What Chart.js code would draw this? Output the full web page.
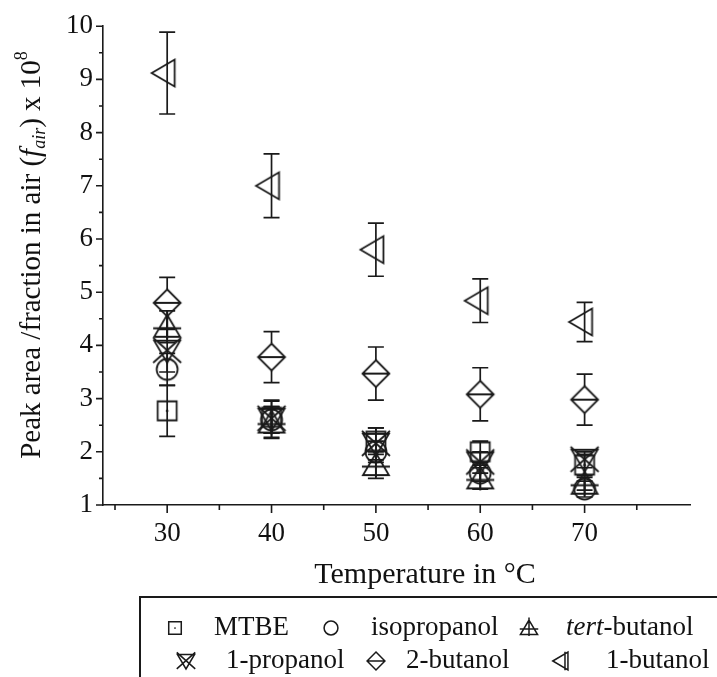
<!DOCTYPE html>
<html>
<head>
<meta charset="utf-8">
<script src="https://cdn.jsdelivr.net/npm/chart.js@4.4.0/dist/chart.umd.min.js"></script>
<style>
  html, body { margin: 0; padding: 0; background: #ffffff; }
  #wrap { width: 717px; height: 677px; position: relative; }
</style>
</head>
<body>
<div id="wrap"><canvas id="chart" width="717" height="677"></canvas></div>
<script>
// Temperatures (°C) on the x axis
const temperatures = [30, 40, 50, 60, 70];

// Peak area / fraction in air (x 10^8), with error half-widths
const mtbe          = [2.77, 2.65, 2.20, 2.00, 1.75];
const mtbeErr       = [0.48, 0.30, 0.25, 0.20, 0.20];
const isopropanol   = [3.55, 2.60, 2.00, 1.60, 1.30];
const isopropanolErr= [0.30, 0.25, 0.20, 0.15, 0.15];
const tertButanol   = [4.35, 2.55, 1.75, 1.50, 1.40];
const tertButanolErr= [0.30, 0.30, 0.25, 0.20, 0.12];
const propanol1     = [3.90, 2.62, 2.15, 1.80, 1.85];
const propanol1Err  = [0.40, 0.35, 0.30, 0.20, 0.15];
const butanol2      = [4.80, 3.78, 3.47, 3.08, 2.98];
const butanol2Err   = [0.48, 0.48, 0.50, 0.50, 0.48];
const butanol1      = [9.12, 7.00, 5.80, 4.84, 4.44];
const butanol1Err   = [0.77, 0.60, 0.50, 0.41, 0.37];

// Axis ticks and range
const xMajorTicks = [30, 40, 50, 60, 70];
const xMinorTicks = [25, 35, 45, 55, 65, 75];
const yMajorTicks = [1, 2, 3, 4, 5, 6, 7, 8, 9, 10];
const yMinorTicks = [1.5, 2.5, 3.5, 4.5, 5.5, 6.5, 7.5, 8.5, 9.5];
const xRange = [23.85, 80.1];
const yRange = [1, 10];

const INK = '#1a1a1a';
const SERIF = '"Liberation Serif", "Times New Roman", serif';

// Marker outlines, k scales the size (1 = plot markers); bar adds the
// inner vertical stroke used by the legend glyph of the left triangle
function traceShape(ctx, kind, k, bar) {
  ctx.beginPath();
  switch (kind) {
    case 'square':
      ctx.rect(-9.5 * k, -9.5 * k, 19 * k, 19 * k);
      break;
    case 'circle':
      ctx.arc(0, 0, 10.5 * k, 0, Math.PI * 2);
      break;
    case 'triUpCross':
      ctx.moveTo(0, -12 * k); ctx.lineTo(13 * k, 10 * k); ctx.lineTo(-13 * k, 10 * k); ctx.closePath();
      ctx.moveTo(-14 * k, 1.5 * k); ctx.lineTo(14 * k, 1.5 * k);
      ctx.moveTo(0, -16 * k); ctx.lineTo(0, 12 * k);
      break;
    case 'triDownX':
      ctx.moveTo(-13 * k, -10 * k); ctx.lineTo(13 * k, -10 * k); ctx.lineTo(0, 12 * k); ctx.closePath();
      ctx.moveTo(-14 * k, -13 * k); ctx.lineTo(14 * k, 12 * k);
      ctx.moveTo(14 * k, -13 * k); ctx.lineTo(-14 * k, 12 * k);
      break;
    case 'diamondBar':
      ctx.moveTo(0, -13.5 * k); ctx.lineTo(13.5 * k, 0); ctx.lineTo(0, 13.5 * k); ctx.lineTo(-13.5 * k, 0); ctx.closePath();
      ctx.moveTo(-13.5 * k, 0); ctx.lineTo(13.5 * k, 0);
      break;
    case 'triLeftBar':
      ctx.moveTo(-15.5 * k, 0); ctx.lineTo(7.5 * k, -13.5 * k); ctx.lineTo(7.5 * k, 13.5 * k); ctx.closePath();
      if (bar) { ctx.moveTo(3 * k, -14 * k); ctx.lineTo(3 * k, 14 * k); }
      break;
  }
  ctx.stroke();
  if (kind === 'square') {
    ctx.beginPath();
    ctx.arc(0, 0, 1.3 * k, 0, Math.PI * 2);
    ctx.fill();
  }
}

function makeMarker(kind) {
  const c = document.createElement('canvas');
  c.width = 40; c.height = 40;
  const g = c.getContext('2d');
  g.translate(20, 20);
  g.strokeStyle = INK; g.fillStyle = INK;
  g.lineWidth = 1.8; g.lineJoin = 'miter';
  traceShape(g, kind, 1, false);
  return c;
}

const seriesNames  = ['MTBE', 'isopropanol', 'tert-butanol', '1-propanol', '2-butanol', '1-butanol'];
const seriesShapes = ['square', 'circle', 'triUpCross', 'triDownX', 'diamondBar', 'triLeftBar'];
const seriesValues = [mtbe, isopropanol, tertButanol, propanol1, butanol2, butanol1];
const seriesErrors = [mtbeErr, isopropanolErr, tertButanolErr, propanol1Err, butanol2Err, butanol1Err];
// Gap (px) left open inside a marker by the error bar
const barGaps = [0, 0, 0, 0, 13.5, 0];

const datasets = seriesNames.map((name, i) => ({
  label: name,
  data: temperatures.map((t, j) => ({ x: t, y: seriesValues[i][j] })),
  err: seriesErrors[i],
  gap: barGaps[i],
  pointStyle: makeMarker(seriesShapes[i]),
  pointRadius: 12,
  showLine: false
}));

// Vertical error bars with caps
const errorBars = {
  id: 'errorBars',
  beforeDatasetsDraw(chart) {
    const ctx = chart.ctx;
    const xs = chart.scales.x, ys = chart.scales.y;
    ctx.save();
    ctx.strokeStyle = INK;
    ctx.lineWidth = 1.7;
    chart.data.datasets.forEach(ds => {
      ds.data.forEach((p, j) => {
        const e = ds.err[j];
        const px = xs.getPixelForValue(p.x);
        const pc = ys.getPixelForValue(p.y);
        const pt = ys.getPixelForValue(p.y + e);
        const pb = ys.getPixelForValue(p.y - e);
        ctx.beginPath();
        ctx.moveTo(px, pt); ctx.lineTo(px, pc - ds.gap);
        ctx.moveTo(px, pc + ds.gap); ctx.lineTo(px, pb);
        ctx.moveTo(px - 8, pt); ctx.lineTo(px + 8, pt);
        ctx.moveTo(px - 8, pb); ctx.lineTo(px + 8, pb);
        ctx.stroke();
      });
    });
    ctx.restore();
  }
};

// Tick marks, axis titles and the legend box
const decorations = {
  id: 'decorations',
  afterDraw(chart) {
    const ctx = chart.ctx;
    const xs = chart.scales.x, ys = chart.scales.y;
    const area = chart.chartArea;
    ctx.save();
    ctx.strokeStyle = INK;
    ctx.fillStyle = '#111';
    ctx.lineWidth = 1.6;

    ctx.beginPath();
    xMajorTicks.forEach(v => { const p = xs.getPixelForValue(v); ctx.moveTo(p, area.bottom); ctx.lineTo(p, area.bottom + 8); });
    xMinorTicks.forEach(v => { const p = xs.getPixelForValue(v); ctx.moveTo(p, area.bottom); ctx.lineTo(p, area.bottom + 5); });
    yMajorTicks.forEach(v => { const p = ys.getPixelForValue(v); ctx.moveTo(area.left, p); ctx.lineTo(area.left - 7, p); });
    yMinorTicks.forEach(v => { const p = ys.getPixelForValue(v); ctx.moveTo(area.left, p); ctx.lineTo(area.left - 4, p); });
    ctx.stroke();

    // x axis title
    ctx.font = '30px ' + SERIF;
    ctx.textAlign = 'center';
    ctx.textBaseline = 'middle';
    ctx.fillText('Temperature in \u00B0C', 425, 575);

    // y axis title with italic f, subscript "air" and superscript 8
    ctx.save();
    ctx.translate(30, 255);
    ctx.rotate(-Math.PI / 2);
    ctx.textBaseline = 'alphabetic';
    ctx.textAlign = 'left';
    const parts = [
      { t: 'Peak area /fraction in air (', f: '29px ' + SERIF, dy: 0 },
      { t: 'f', f: 'italic 29px ' + SERIF, dy: 0 },
      { t: 'air', f: 'italic 18px ' + SERIF, dy: 5 },
      { t: ') x 10', f: '29px ' + SERIF, dy: 0 },
      { t: '8', f: '18px ' + SERIF, dy: -13 }
    ];
    let total = 0;
    parts.forEach(p => { ctx.font = p.f; p.w = ctx.measureText(p.t).width; total += p.w; });
    let cx = -total / 2;
    parts.forEach(p => { ctx.font = p.f; ctx.fillText(p.t, cx, 10 + p.dy); cx += p.w; });
    ctx.restore();

    // legend box
    ctx.lineWidth = 2;
    ctx.beginPath();
    ctx.moveTo(140, 677); ctx.lineTo(140, 597); ctx.lineTo(717, 597);
    ctx.stroke();

    const legendItems = [
      { i: 0, sx: 175, tx: 214, y: 628 },
      { i: 1, sx: 331, tx: 371, y: 628 },
      { i: 2, sx: 529, tx: 566, y: 628 },
      { i: 3, sx: 186, tx: 226, y: 661 },
      { i: 4, sx: 376, tx: 406, y: 661 },
      { i: 5, sx: 563, tx: 606, y: 661 }
    ];
    ctx.lineWidth = 1.5;
    ctx.textAlign = 'left';
    ctx.textBaseline = 'middle';
    legendItems.forEach(it => {
      ctx.save();
      ctx.translate(it.sx, it.y);
      traceShape(ctx, seriesShapes[it.i], 0.66, true);
      ctx.restore();
      const name = seriesNames[it.i];
      if (name === 'tert-butanol') {
        ctx.font = 'italic 27px ' + SERIF;
        ctx.fillText('tert', it.tx, it.y);
        const w = ctx.measureText('tert').width;
        ctx.font = '27px ' + SERIF;
        ctx.fillText('-butanol', it.tx + w, it.y);
      } else {
        ctx.font = '27px ' + SERIF;
        ctx.fillText(name, it.tx, it.y);
      }
    });
    ctx.restore();
  }
};

const tickFont = { family: SERIF, size: 27 };

new Chart(document.getElementById('chart').getContext('2d'), {
  type: 'scatter',
  data: { datasets },
  options: {
    responsive: false,
    animation: false,
    devicePixelRatio: 1,
    layout: { padding: { top: 18, right: 27, bottom: 0, left: 0 } },
    plugins: { legend: { display: false }, tooltip: { enabled: false } },
    scales: {
      x: {
        type: 'linear',
        min: xRange[0],
        max: xRange[1],
        afterBuildTicks: s => { s.ticks = xMajorTicks.map(v => ({ value: v })); },
        afterFit: s => { s.height = 172; },
        grid: { display: false, drawTicks: false },
        border: { display: true, color: INK, width: 1.6 },
        ticks: { padding: 13, color: '#111', font: tickFont, maxRotation: 0, autoSkip: false }
      },
      y: {
        type: 'linear',
        min: yRange[0],
        max: yRange[1],
        afterBuildTicks: s => { s.ticks = yMajorTicks.map(v => ({ value: v })); },
        afterFit: s => { s.width = 103; },
        grid: { display: false, drawTicks: false },
        border: { display: true, color: INK, width: 1.6 },
        ticks: { padding: 10, color: '#111', font: tickFont, autoSkip: false }
      }
    }
  },
  plugins: [errorBars, decorations]
});
</script>
</body>
</html>
